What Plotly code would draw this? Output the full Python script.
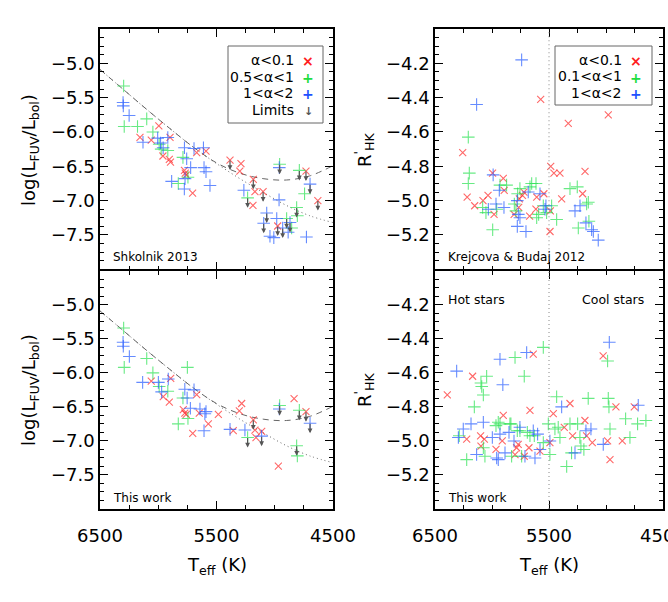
import plotly.graph_objects as go

W, H = 668, 602

# ---- fit curves (left panels) ----
fit_teff = [6500, 6300, 6100, 5900, 5700, 5500, 5300, 5100, 4900, 4700, 4500]
fit_dashed = [-5.09, -5.38, -5.67, -5.95, -6.22, -6.45, -6.60, -6.68, -6.70, -6.64, -6.49]
fit_dotted = [-5.09, -5.38, -5.67, -5.95, -6.22, -6.46, -6.68, -6.88, -7.07, -7.22, -7.32]

# ---- Shkolnik 2013 (top left) ----
shk_red_teff = [5995, 6157, 6060, 5899, 5960, 5905, 5895, 5670, 5590, 5775, 5768, 5760, 5705,
                5384, 5290, 5300, 5184, 5170, 5100, 5187, 4975, 4732, 4630]
shk_red_val = [-5.91, -6.08, -6.12, -6.08, -6.35, -6.40, -6.44, -6.30, -6.28, -6.56, -6.60, -6.63, -6.89,
               -6.41, -6.46, -6.57, -6.69, -6.87, -6.87, -7.07, -7.37, -6.57, -7.00]
shk_green_teff = [6297, 6292, 6178, 6099, 6046, 5992, 5975, 5918, 5788, 5828, 5745,
                  4958, 5233, 4789, 4744, 4812, 4806, 4898, 4855]
shk_green_val = [-5.33, -5.92, -5.92, -5.81, -6.00, -6.18, -6.25, -6.27, -6.37, -6.75, -6.66,
                 -6.47, -6.96, -6.56, -6.90, -7.10, -7.22, -7.26, -7.40]
shk_blue_teff = [6302, 6300, 6250, 6131, 6005, 5980, 5958, 5918, 5885, 5775, 5693, 5612, 5756,
                 5722, 5607, 5590, 5556, 5770, 5776, 5265, 4961, 4697, 4963, 5069, 5095, 4983,
                 5041, 5008, 4932, 4885, 4869, 4728]
shk_blue_val = [-5.57, -5.62, -5.76, -6.15, -6.09, -6.16, -6.23, -6.08, -6.72, -6.23, -6.24, -6.23, -6.39,
                -6.52, -6.52, -6.58, -6.78, -6.68, -6.83, -6.85, -6.52, -6.76, -6.99, -7.18, -7.33, -7.26,
                -7.52, -7.54, -7.40, -7.46, -7.32, -7.53]
shk_lim_teff = [5384, 5184, 5233, 5100, 4958, 4789, 4732, 4697, 4630, 4812, 5069, 5095, 4975, 4932,
                4898, 4869]
shk_lim_val = [-6.41, -6.69, -6.96, -6.87, -6.47, -6.56, -6.57, -6.76, -7.00, -7.10, -7.18, -7.33,
               -7.37, -7.40, -7.26, -7.32]

# ---- This work, FUV (bottom left) ----
fuv_red_teff = [6060, 5893, 5957, 5905, 5785, 5772, 5760, 5670, 5648, 5704, 5570, 5484, 5284,
                5304, 5184, 5170, 5112, 5161, 5356, 4969, 4834, 4732]
fuv_red_val = [-6.12, -6.08, -6.35, -6.43, -6.54, -6.59, -6.61, -6.32, -6.59, -6.89, -6.75, -6.61,
               -6.45, -6.56, -6.69, -6.84, -6.86, -6.95, -6.85, -7.37, -6.38, -6.57]
fuv_green_teff = [6297, 6292, 6099, 6046, 5992, 5918, 5750, 5788, 5828, 5745, 5233, 4958, 4789,
                  4812, 4806]
fuv_green_val = [-5.34, -5.92, -5.79, -6.00, -6.20, -6.27, -5.92, -6.37, -6.75, -6.67, -6.95, -6.48,
                 -6.55, -7.07, -7.22]
fuv_blue_teff = [6302, 6300, 6248, 6134, 5999, 5971, 5914, 5772, 5752, 5693, 5724, 5642, 5590,
                 5600, 5607, 5384, 5256, 5113, 4961, 4697]
fuv_blue_val = [-5.55, -5.61, -5.76, -6.14, -6.14, -6.28, -6.09, -6.24, -6.37, -6.25, -6.52, -6.53,
                -6.57, -6.60, -6.85, -6.83, -6.84, -6.93, -6.53, -6.74]
fuv_lim_teff = [5184, 5233, 5113, 4958, 4789, 4732, 4697, 4812]
fuv_lim_val = [-6.69, -6.95, -6.93, -6.48, -6.55, -6.57, -6.74, -7.07]

# ---- Krejcova & Budaj 2012 (top right) ----
kb_red_teff = [6257, 6218, 6152, 6079, 6035, 5995, 5982, 5901, 5893, 5806, 5766, 5760, 5733, 5720,
               5670, 5615, 5608, 5545, 5573, 5485, 5457, 5404, 5488, 5491, 5389, 5331, 5205, 5184,
               4980]
kb_red_val = [-4.72, -4.98, -5.03, -5.00, -4.97, -4.84, -5.08, -4.87, -4.94, -5.08, -5.04, -4.99,
              -4.97, -4.95, -5.09, -5.05, -4.98, -4.96, -4.41, -4.80, -4.84, -4.84, -5.06, -5.18,
              -4.99, -4.55, -4.96, -4.83, -4.50]
kb_green_teff = [6208, 6199, 6208, 6082, 6053, 5994, 5959, 5930, 5872, 5804, 5775, 5790, 5755, 5667,
                 5652, 5614, 5608, 5591, 5550, 5521, 5477, 5433, 5316, 5252, 5243, 5170, 5155, 5150]
kb_green_val = [-4.63, -4.84, -4.90, -5.04, -5.07, -5.17, -5.05, -4.91, -4.91, -5.02, -4.96, -5.06,
                -4.93, -4.92, -4.90, -4.90, -5.10, -5.08, -5.03, -5.07, -5.03, -5.11, -4.93, -4.92,
                -5.16, -5.02, -5.01, -5.12]
kb_blue_teff = [5740, 6135, 6032, 5965, 5936, 5895, 5778, 5769, 5778, 5755, 5702, 5682, 5579, 5535,
                5527, 5272, 5228, 5176, 5126, 5111, 5068, 5990]
kb_blue_val = [-4.18, -4.44, -5.05, -5.02, -4.94, -5.04, -5.00, -5.08, -5.15, -5.10, -5.18, -4.95,
               -4.96, -5.05, -5.03, -5.06, -5.03, -5.13, -5.17, -5.18, -5.23, -4.85]

# ---- This work, R'HK (bottom right) ----
hk_red_teff = [6392, 6170, 6222, 6100, 6097, 6067, 5965, 5910, 5901, 5784, 5770, 5798, 5717, 5676,
               5667, 5638, 5579, 5492, 5462, 5366, 5316, 5293, 5185, 5170, 5120, 5025, 4986, 4965,
               4913, 4857, 4752]
hk_red_val = [-4.73, -4.62, -4.99, -4.97, -5.03, -4.99, -5.05, -5.00, -4.85, -5.04, -5.02, -5.08,
              -5.09, -5.04, -4.82, -4.49, -5.06, -5.01, -4.84, -4.92, -4.78, -4.97, -4.88, -4.97,
              -5.01, -4.50, -5.00, -5.11, -4.80, -5.00, -4.80]
hk_green_teff = [6287, 6222, 6155, 6097, 6090, 6076, 6047, 6076, 6062, 5965, 5945, 5930, 5843, 5834,
                 5798, 5755, 5740, 5717, 5828, 5778, 5690, 5667, 5629, 5550, 5550, 5506, 5492, 5448,
                 5433, 5419, 5404, 5345, 5316, 5302, 5249, 5229, 5220, 5194, 5156, 4986, 4980, 4974,
                 4965, 4828, 4790, 4723, 4650]
hk_green_val = [-4.97, -5.11, -4.80, -4.66, -4.68, -4.73, -4.62, -5.04, -5.09, -4.91, -4.89, -4.90,
                -4.90, -4.90, -4.51, -4.94, -5.09, -4.62, -5.09, -4.94, -4.95, -4.97, -4.97, -4.45,
                -5.01, -4.90, -5.08, -4.93, -4.74, -4.92, -4.98, -5.15, -4.90, -5.07, -4.90, -4.98,
                -5.03, -5.05, -4.75, -4.53, -4.75, -4.80, -4.93, -4.87, -4.98, -4.90, -4.88]
hk_blue_teff = [6310, 6295, 6252, 6184, 6135, 6076, 5997, 5959, 5945, 5930, 5905, 5930, 5886, 5851,
                5807, 5755, 5711, 5696, 5638, 5623, 5600, 5579, 5492, 5389, 5272, 5176, 5132, 5024,
                4971, 4717]
hk_blue_val = [-4.59, -4.98, -4.93, -4.90, -5.08, -4.89, -4.98, -5.10, -5.11, -4.52, -4.67, -4.96,
               -5.07, -4.95, -5.00, -4.92, -5.09, -4.48, -4.94, -5.10, -4.96, -5.05, -5.00, -4.80,
               -5.07, -4.94, -4.93, -5.02, -4.42, -4.79]

split_teff = 5500
teff_ticks = [6500, 5500, 4500]
fuv_ticks = [-5.0, -5.5, -6.0, -6.5, -7.0, -7.5]
hk_ticks = [-4.2, -4.4, -4.6, -4.8, -5.0, -5.2]

RED = "rgba(255,40,40,0.7)"
GREEN = "rgba(40,225,80,0.7)"
BLUE = "rgba(35,90,255,0.7)"
FONT = "DejaVu Sans"


def px(x):
    return x / W


def py(y):
    return 1 - y / H


fig = go.Figure()


def add_points(teff, val, color, symbol, n):
    size = 9 if symbol == "cross-thin" else 7
    fig.add_trace(go.Scatter(
        x=teff, y=val, mode="markers", xaxis=f"x{n}", yaxis=f"y{n}",
        marker=dict(symbol=symbol, size=size, color=color,
                    line=dict(color=color, width=1.1)),
        hoverinfo="skip", showlegend=False))


def add_fits(n):
    for vals, dash in [(fit_dashed, "6px,5px"), (fit_dotted, "1px,3px")]:
        fig.add_trace(go.Scatter(
            x=fit_teff, y=vals, mode="lines", xaxis=f"x{n}", yaxis=f"y{n}",
            line=dict(color="#666", width=1, dash=dash, shape="spline"),
            hoverinfo="skip", showlegend=False))


def add_limits(teff, val, n):
    for t, v in zip(teff, val):
        fig.add_annotation(
            x=t, y=v, xref=f"x{n}", yref=f"y{n}", text="", showarrow=True,
            ax=0, ay=-11, yshift=-10, arrowhead=2, arrowsize=0.8, arrowwidth=1.2,
            arrowcolor="#555")


# panel 1: top left, 2: top right, 3: bottom left, 4: bottom right
add_fits(1)
add_points(shk_red_teff, shk_red_val, RED, "x-thin", 1)
add_points(shk_green_teff, shk_green_val, GREEN, "cross-thin", 1)
add_points(shk_blue_teff, shk_blue_val, BLUE, "cross-thin", 1)
add_limits(shk_lim_teff, shk_lim_val, 1)

add_points(kb_red_teff, kb_red_val, RED, "x-thin", 2)
add_points(kb_green_teff, kb_green_val, GREEN, "cross-thin", 2)
add_points(kb_blue_teff, kb_blue_val, BLUE, "cross-thin", 2)

add_fits(3)
add_points(fuv_red_teff, fuv_red_val, RED, "x-thin", 3)
add_points(fuv_green_teff, fuv_green_val, GREEN, "cross-thin", 3)
add_points(fuv_blue_teff, fuv_blue_val, BLUE, "cross-thin", 3)
add_limits(fuv_lim_teff, fuv_lim_val, 3)

add_points(hk_red_teff, hk_red_val, RED, "x-thin", 4)
add_points(hk_green_teff, hk_green_val, GREEN, "cross-thin", 4)
add_points(hk_blue_teff, hk_blue_val, BLUE, "cross-thin", 4)

# dotted split line in right panels
for n in (2, 4):
    fig.add_shape(type="line", xref=f"x{n}", yref=f"y{n} domain", x0=split_teff, x1=split_teff,
                  y0=0, y1=1, line=dict(color="#888", width=1, dash="1px,3px"))

left_dom = [px(100), px(333)]
right_dom = [px(435), px(663)]
# axis lines sit half a line width outside the domain, so the two rows overlap a bit
top_dom = [py(269.25), py(29)]
bot_dom = [py(509), py(270.75)]

common = dict(showline=True, linecolor="black", linewidth=1.5, mirror="allticks",
              ticks="inside", ticklen=8, tickwidth=1.2, tickcolor="black",
              showgrid=False, zeroline=False, automargin=False, ticklabeloverflow="allow",
              tickfont=dict(family=FONT, size=18, color="black"))


def xax(dom, anchor, labels):
    return dict(common, domain=dom, anchor=anchor, range=[6500, 4500],
                tickmode="array", tickvals=teff_ticks, showticklabels=labels,
                ticklabelstandoff=10,
                minor=dict(ticks="inside", ticklen=4, tickwidth=1, tickcolor="black",
                           tickmode="linear", tick0=6500, dtick=250))


def yax(dom, anchor, rng, vals, mdt):
    return dict(common, domain=dom, anchor=anchor, range=rng,
                tickmode="array", tickvals=vals, tickformat=".1f",
                minor=dict(ticks="inside", ticklen=4, tickwidth=1, tickcolor="black",
                           tickmode="linear", tick0=rng[1], dtick=mdt))


fig.update_layout(
    width=W, height=H,
    margin=dict(l=0, r=0, t=0, b=0, autoexpand=False),
    paper_bgcolor="white", plot_bgcolor="white",
    showlegend=False,
    font=dict(family=FONT, color="black"),
    xaxis=xax(left_dom, "y", False),
    yaxis=yax(top_dom, "x", [-8.0, -4.5], fuv_ticks, 0.125),
    xaxis2=xax(right_dom, "y2", False),
    yaxis2=yax(top_dom, "x2", [-5.4, -4.0], hk_ticks, 0.05),
    xaxis3=xax(left_dom, "y3", True),
    yaxis3=yax(bot_dom, "x3", [-8.0, -4.5], fuv_ticks, 0.125),
    xaxis4=xax(right_dom, "y4", True),
    yaxis4=yax(bot_dom, "x4", [-5.4, -4.0], hk_ticks, 0.05),
)


def note(x, y, text, size, xanchor="left", color="black", angle=0):
    fig.add_annotation(x=px(x), y=py(y), xref="paper", yref="paper", text=text,
                       showarrow=False, xanchor=xanchor, yanchor="middle", textangle=angle,
                       font=dict(family=FONT, size=size, color=color))


# axis titles
fuv_title = "log(L<sub>FUV</sub>/L<sub>bol</sub>)"
hk_title = "R<sup>'</sup><sub>HK</sub>"
note(30, 150, fuv_title, 18, "center", angle=-90)
note(30, 390, fuv_title, 18, "center", angle=-90)
note(364, 150, hk_title, 18, "center", angle=-90)
note(364, 390, hk_title, 18, "center", angle=-90)
note(217, 566, "T<sub>eff</sub> (K)", 18, "center")
note(549, 566, "T<sub>eff</sub> (K)", 18, "center")

# panel labels
note(111, 257, "Shkolnik 2013", 12)
note(111, 498, "This work", 12)
note(446, 257, "Krejcova &amp; Budaj 2012", 12)
note(446, 498, "This work", 12)
note(446, 300, "Hot stars", 12.5)
note(646, 300, "Cool stars", 12.5, "right")

# legends
fig.add_shape(type="rect", xref="paper", yref="paper", x0=px(228), x1=px(323), y0=py(123), y1=py(46),
              line=dict(color="#666", width=1), fillcolor="white", layer="above")
fig.add_shape(type="rect", xref="paper", yref="paper", x0=px(555), x1=px(652), y0=py(105), y1=py(46),
              line=dict(color="#666", width=1), fillcolor="white", layer="above")

left_legend = [("α&lt;0.1", "×", "#ff2020"), ("0.5&lt;α&lt;1", "+", "#20dd40"),
               ("1&lt;α&lt;2", "+", "#2050ff"), ("Limits", "↓", "#555")]
for i, (label, sym, col) in enumerate(left_legend):
    yy = 60 + i * 16.7
    note(296, yy, label, 14, "right")
    note(308, yy + 1, f"<b>{sym}</b>", 14 if sym != "↓" else 11, "center", color=col)

right_legend = [("α&lt;0.1", "×", "#ff2020"), ("0.1&lt;α&lt;1", "+", "#20dd40"),
                ("1&lt;α&lt;2", "+", "#2050ff")]
for i, (label, sym, col) in enumerate(right_legend):
    yy = 60 + i * 16.5
    note(624, yy, label, 14, "right")
    note(636, yy + 1, f"<b>{sym}</b>", 14, "center", color=col)

# the page body has a default 8px margin; drop it so the figure sits at the window corner
fig.write_html("out.html", config={"displayModeBar": False},
               post_script="document.body.style.margin='0';")
